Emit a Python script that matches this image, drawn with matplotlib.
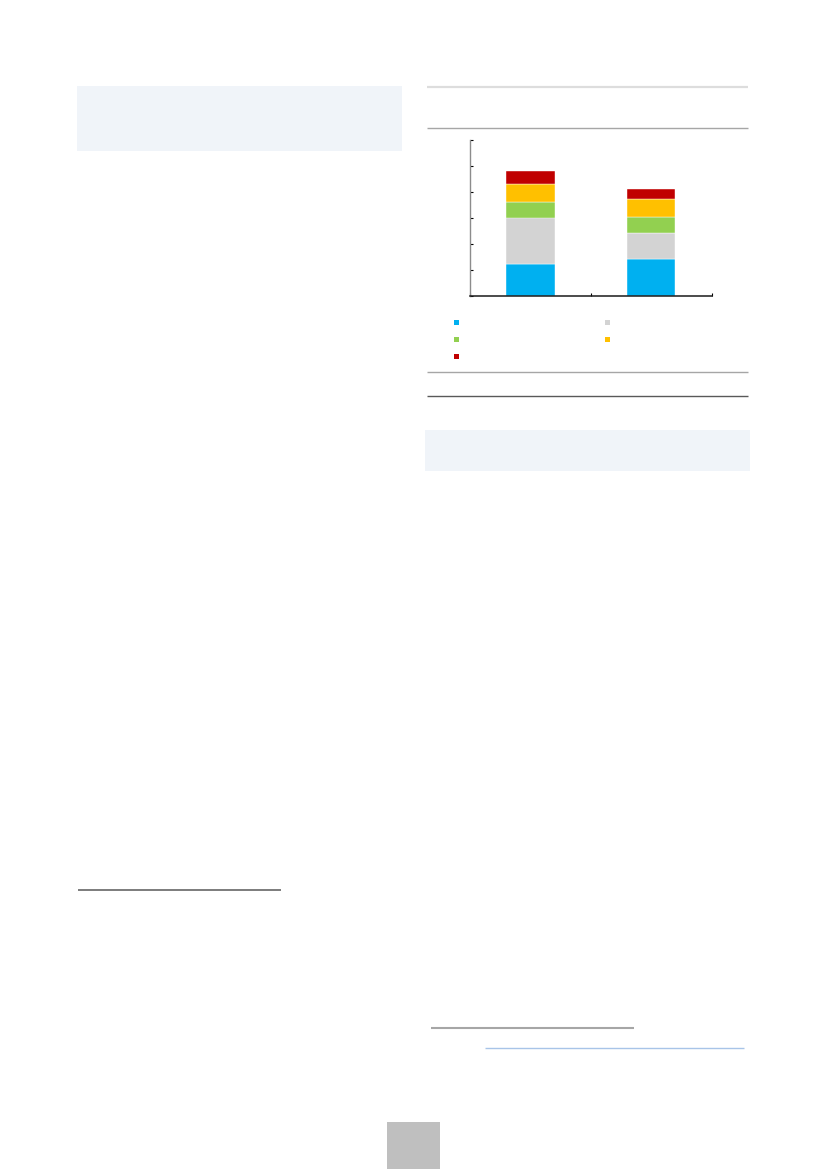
import numpy as np
import matplotlib
matplotlib.use("Agg")
import matplotlib.pyplot as plt
from matplotlib.patches import Rectangle

# chart data (axis 0..6)
categories = ["A", "B"]
series_names = ["s1", "s2", "s3", "s4", "s5"]
series_colors = ["#00B0F0", "#D3D3D3", "#92D050", "#FFC000", "#C00000"]
s1 = [1.20, 1.40]
s2 = [1.80, 1.00]
s3 = [0.60, 0.62]
s4 = [0.69, 0.68]
s5 = [0.50, 0.40]
series_values = [s1, s2, s3, s4, s5]
y_ticks = [0, 1, 2, 3, 4, 5, 6]

W, H = 827, 1169
fig = plt.figure(figsize=(W / 100, H / 100), dpi=100)

# page layer in pixel coordinates
page = fig.add_axes([0, 0, 1, 1])
page.set_xlim(0, W)
page.set_ylim(H, 0)
page.axis("off")

def hline(x0, x1, y, color, lw):
    page.plot([x0, x1], [y, y], color=color, lw=lw, solid_capstyle="butt")

def box(x0, y0, x1, y1, color):
    page.add_patch(Rectangle((x0, y0), x1 - x0, y1 - y0, color=color, lw=0))

box(77, 86, 402, 151, "#F0F4F9")
box(425, 430, 750, 471, "#F0F4F9")
box(387, 1122, 440, 1169, "#BFBFBF")

hline(427, 748, 87, "#DDDDDD", 1.6)
hline(427, 748, 127.5, "#A6A6A6", 1.0)
hline(427, 748, 371.5, "#A6A6A6", 1.0)
hline(427, 748, 396, "#595959", 1.0)
hline(78, 281, 889.5, "#595959", 1.1)
hline(431, 634, 1028, "#A6A6A6", 1.5)
hline(485, 744, 1048, "#A8C4E8", 1.0)

# legend keys
key_pos = [(456.5, 322.5), (607.5, 322.5), (456.5, 339.5), (607.5, 339.5), (456.5, 356.5)]
for (kx, ky), c in zip(key_pos, series_colors):
    box(kx - 2.4, ky - 2.4, kx + 2.4, ky + 2.4, c)

# stacked bar chart
ax = fig.add_axes([470 / W, 1 - 295.5 / H, 241.5 / W, 156 / H])
x = np.arange(len(categories))
bottom = np.zeros(len(categories))
for name, vals, c in zip(series_names, series_values, series_colors):
    ax.bar(x, vals, width=0.40, bottom=bottom, color=c, edgecolor="white", linewidth=0.3, label=name)
    bottom += np.array(vals)

ax.set_xlim(-0.5, 1.5)
ax.set_ylim(0, 6)
ax.set_yticks(y_ticks)
ax.set_xticks([-0.5, 0.5, 1.5])
ax.set_xticklabels([])
ax.set_yticklabels([])
ax.tick_params(direction="in", length=2.5, width=0.8)
ax.spines["top"].set_visible(False)
ax.spines["right"].set_visible(False)
ax.spines["left"].set_color("#8C8C8C")
ax.spines["left"].set_linewidth(1.0)
ax.spines["bottom"].set_color("#1A1A1A")
ax.spines["bottom"].set_linewidth(1.1)
ax.patch.set_alpha(0)

fig.savefig("out.png", dpi=100)
